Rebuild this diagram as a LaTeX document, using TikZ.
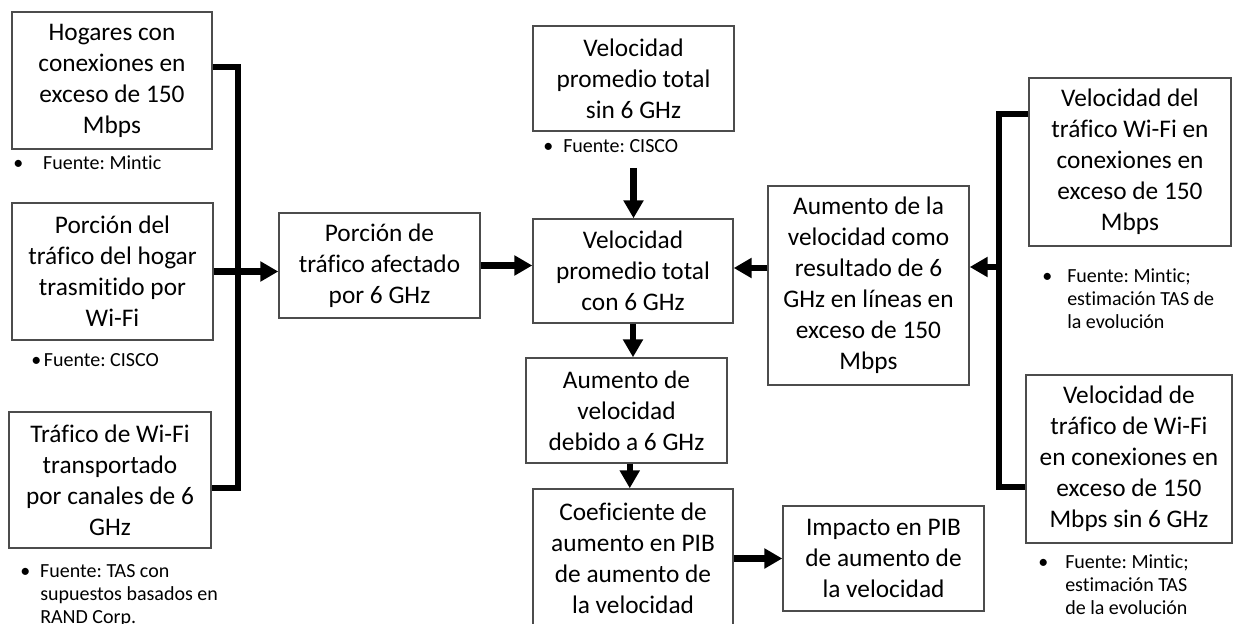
\documentclass[tikz,border=0pt]{standalone}
\usepackage{fontspec}
\setmainfont{Carlito}[Ligatures={NoCommon}]
\usetikzlibrary{arrows.meta,calc}
\frenchspacing
\newcommand{\bxf}{\fontsize{19pt}{23.25pt}\selectfont}
\newcommand{\ntf}{\fontsize{15pt}{17.6pt}\selectfont}
\begin{document}
\begin{tikzpicture}[x=0.75pt,y=-0.75pt,
  box/.style={draw=black!70, line width=1.1pt, align=center, inner sep=0pt, font=\bxf, text=black},
  arr/.style={line width=4.8pt, -{Triangle[length=13.5pt,width=14.5pt]}},
  bar/.style={line width=4.8pt, line join=miter},
  note/.style={anchor=base west, inner sep=0pt, font=\ntf}]
\fill[white] (0,0) rectangle (1235,624);
\useasboundingbox (0,0) rectangle (1235,624);

% boxes
\node[box, minimum width=150pt, minimum height=102.75pt] (b1) at (112,80.5) {Hogares con\\conexiones en\\exceso de 150\\Mbps};
\node[box, minimum width=150.75pt, minimum height=102.75pt] (b2) at (112.5,271.5) {Porción del\\tráfico del hogar\\trasmitido por\\Wi-Fi};
\node[box, minimum width=151.5pt, minimum height=102pt] (b3) at (110,480) {Tráfico de Wi-Fi\\transportado\\por canales de 6\\GHz};
\node[box, minimum width=150.75pt, minimum height=78.75pt] (b4) at (379.5,265.5) {Porción de\\tráfico afectado\\por 6 GHz};
\node[box, minimum width=150pt, minimum height=78pt] (b5) at (633,271) {Velocidad\\promedio total\\con 6 GHz};
\node[box, minimum width=150.75pt, minimum height=78.75pt] (b6) at (633.5,78.5) {Velocidad\\promedio total\\sin 6 GHz};
\node[box, minimum width=150.75pt, minimum height=78.75pt] (b7) at (626.5,410.5) {Aumento de\\velocidad\\debido a 6 GHz};
\node[box, minimum width=150pt, minimum height=104.25pt] (b8) at (633,558.5) {Coeficiente de\\aumento en PIB\\de aumento de\\la velocidad};
\node[box, minimum width=150.75pt, minimum height=78.75pt] (b9) at (883.5,558.5) {Impacto en PIB\\de aumento de\\la velocidad};
\node[box, minimum width=150.75pt, minimum height=149.25pt] (b10) at (868.5,285.5) {Aumento de la\\velocidad como\\resultado de 6\\GHz en líneas en\\exceso de 150\\Mbps};
\node[box, minimum width=151.5pt, minimum height=126pt] (b11) at (1130,162) {Velocidad del\\tráfico Wi-Fi en\\conexiones en\\exceso de 150\\Mbps};
\node[box, minimum width=154.5pt, minimum height=126pt] (b12) at (1129,459) {Velocidad de\\tráfico de Wi-Fi\\en conexiones en\\exceso de 150\\Mbps sin 6 GHz};

% notes
\node[note] (n1) at (13,170) {\begin{tabular}[t]{@{}p{22.5pt}@{}l@{}}\textbullet & Fuente: Mintic\end{tabular}};
\node[note] (n2) at (31,366) {\begin{tabular}[t]{@{}p{9.5pt}@{}l@{}}\textbullet & Fuente: CISCO\end{tabular}};
\node[note] (n3) at (20,577) {\begin{tabular}[t]{@{}p{15pt}@{}l@{}}\textbullet & Fuente: TAS con\\ & supuestos basados en\\ & RAND Corp.\end{tabular}};
\node[note] (n6) at (543,153) {\begin{tabular}[t]{@{}p{15pt}@{}l@{}}\textbullet & Fuente: CISCO\end{tabular}};
\node[note] (n11) at (1042,282) {\begin{tabular}[t]{@{}p{18.75pt}@{}l@{}}\textbullet & Fuente: Mintic;\\ & estimación TAS de\\ & la evolución\end{tabular}};
\node[note] (n12) at (1038,568) {\begin{tabular}[t]{@{}p{20.25pt}@{}l@{}}\textbullet & Fuente: Mintic;\\ & estimación TAS\\ & de la evolución\end{tabular}};

% left bracket
\coordinate (lt) at (238,67);
\coordinate (lb) at (238,488);
\draw[bar] (b1.east |- lt) -- (lt) -- (lb) -- (b3.east |- lb);
\draw[arr] (b2.east) -- (b4.west |- b2.east);
\draw[arr] (b4.east) -- (b5.west |- b4.east);

% central column
\coordinate (a6) at (633.5,168);
\draw[arr] (a6) -- (b5.north -| a6);
\draw[arr] (b5.south) -- (b7.north -| b5.south);
\coordinate (m78) at ($(b7.south)!.5!(b8.north)$);
\draw[arr] (b7.south -| m78) -- (b8.north -| m78);
\draw[arr] (b8.east) -- (b9.west);

% right bracket
\coordinate (rt) at (999,114);
\coordinate (rb) at (999,487);
\coordinate (rm) at (999,267);
\draw[bar] (b11.west |- rt) -- (rt) -- (rb) -- (b12.west |- rb);
\draw[arr] (rm) -- (b10.east |- rm);
\draw[arr] (b10.west |- 0,268) -- (b5.east |- 0,268);
\end{tikzpicture}
\end{document}
